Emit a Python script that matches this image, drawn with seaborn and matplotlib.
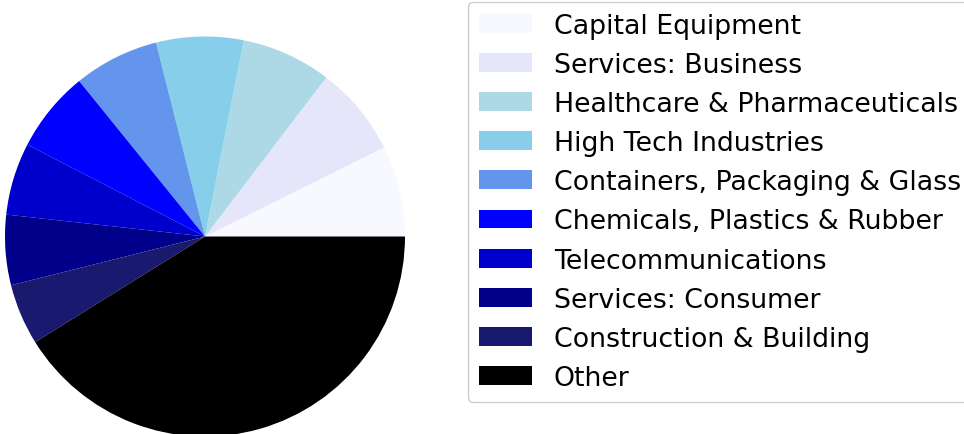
import matplotlib
matplotlib.use("Agg")
import matplotlib.pyplot as plt
import seaborn as sns

categories = [
    "Capital Equipment",
    "Services: Business",
    "Healthcare & Pharmaceuticals",
    "High Tech Industries",
    "Containers, Packaging & Glass",
    "Chemicals, Plastics & Rubber",
    "Telecommunications",
    "Services: Consumer",
    "Construction & Building",
    "Other",
]
shares = [7.34, 7.29, 7.26, 7.05, 6.89, 6.57, 5.85, 5.67, 4.94, 41.14]
color_names = [
    "ghostwhite", "lavender", "lightblue", "skyblue", "cornflowerblue",
    "blue", "mediumblue", "darkblue", "midnightblue", "black",
]

sns.set_style("white")
plt.rcParams["font.family"] = ["DejaVu Sans"]
plt.rcParams["text.color"] = "black"

W, H = 964, 435
fig = plt.figure(figsize=(W / 100, H / 100), dpi=100)
ax = fig.add_axes([5 / W, -2.5 / H, 400 / W, 400 / H])
palette = sns.color_palette(color_names)
wedges, _ = ax.pie(shares, colors=palette, startangle=0, counterclock=True,
                   wedgeprops=dict(linewidth=0))
ax.set_xlim(-1, 1)
ax.set_ylim(-1, 1)
ax.set_aspect("equal")

leg = fig.legend(wedges, categories, loc="upper left",
                 bbox_to_anchor=(468 / W, 1 - 3 / H), borderaxespad=0,
                 frameon=True, fontsize=19.3, labelspacing=0.49,
                 edgecolor="0.8", fancybox=True, framealpha=1)
for t in leg.get_texts():
    t.set_color("black")
fig.savefig("out.png", dpi=100)
